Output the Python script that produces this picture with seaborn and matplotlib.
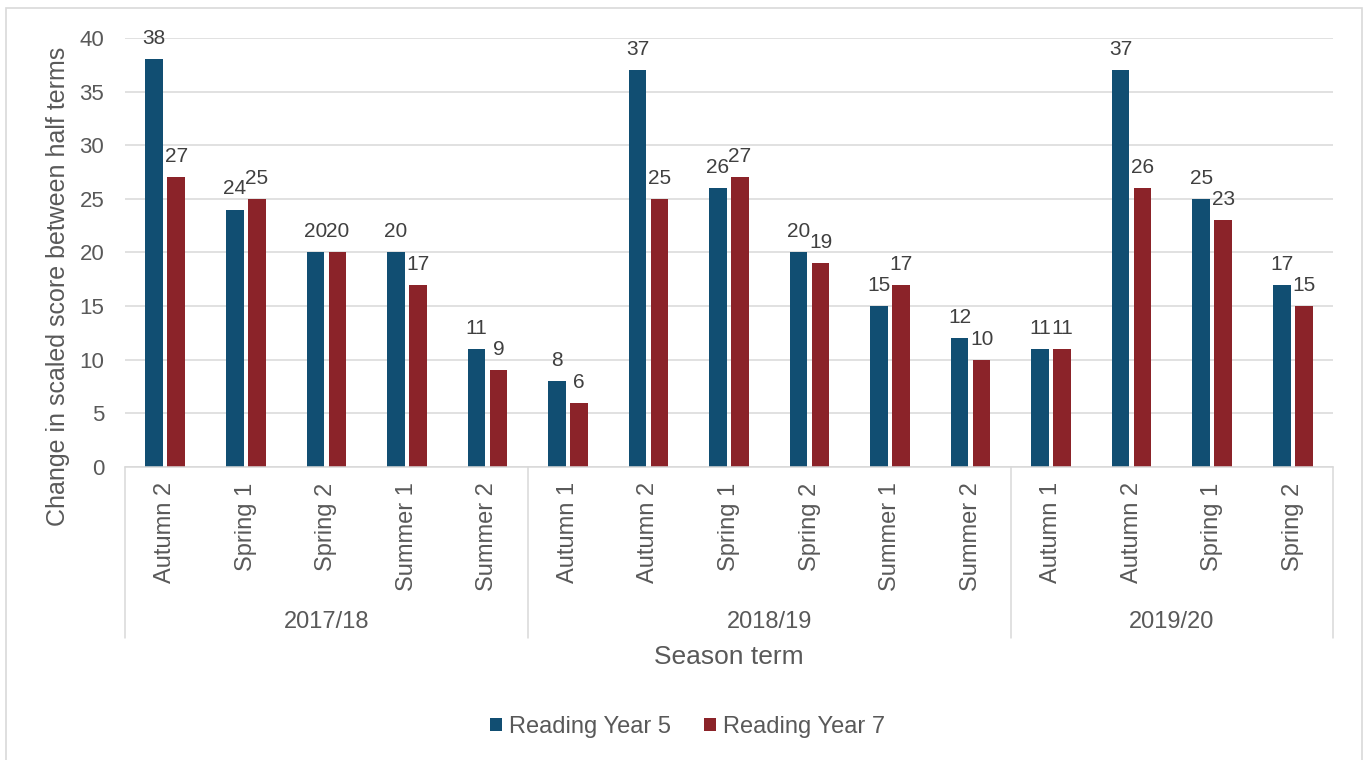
import matplotlib.pyplot as plt
import matplotlib.patches as mpatches
import pandas as pd
import seaborn as sns

# data
years = ["2017/18", "2018/19", "2019/20"]
terms_1718 = ["Autumn 2", "Spring 1", "Spring 2", "Summer 1", "Summer 2"]
terms_1819 = ["Autumn 1", "Autumn 2", "Spring 1", "Spring 2", "Summer 1", "Summer 2"]
terms_1920 = ["Autumn 1", "Autumn 2", "Spring 1", "Spring 2"]
year5 = [38, 24, 20, 20, 11, 8, 37, 26, 20, 15, 12, 11, 37, 25, 17]
year7 = [27, 25, 20, 17, 9, 6, 25, 27, 19, 17, 10, 11, 26, 23, 15]
series = ["Reading Year 5", "Reading Year 7"]
colors = ["#114E72", "#8B2329"]

groups = [terms_1718, terms_1819, terms_1920]
terms, year_of = [], []
for y, g in zip(years, groups):
    terms += g
    year_of += [y] * len(g)
keys = [f"{y} {t}" for y, t in zip(year_of, terms)]

df = pd.DataFrame({
    "key": keys * 2,
    "value": year5 + year7,
    "series": [series[0]] * len(keys) + [series[1]] * len(keys),
})

sns.set_theme(style="white")
plt.rcParams["font.family"] = ["Liberation Sans", "DejaVu Sans"]
grey = "#595959"
line = "#D9D9D9"

fig = plt.figure(figsize=(13.67, 7.6), dpi=100)
ax = fig.add_axes([125 / 1367, 1 - 467 / 760, 1208 / 1367, 429 / 760])

sns.barplot(data=df, x="key", y="value", hue="series", order=keys,
            hue_order=series, palette=colors, width=0.546, gap=0.2,
            linewidth=0, saturation=1, ax=ax)

for cont in ax.containers:
    ax.bar_label(cont, padding=8, fontsize=15, color="#404040")

ax.set_ylim(0, 40)
ax.set_xlim(-0.5, len(keys) - 0.5)
ax.set_yticks(range(0, 41, 5))
ax.yaxis.grid(True, color=line, linewidth=1.1)
ax.set_axisbelow(True)
for s in ["top", "right", "left"]:
    ax.spines[s].set_visible(False)
ax.spines["bottom"].set_color(line)
ax.spines["bottom"].set_linewidth(1.1)

ax.set_xticks(range(len(keys)))
ax.set_xticklabels(terms, rotation=90, va="top", ha="center")
ax.tick_params(axis="x", length=0, pad=11, labelsize=17, labelcolor=grey)
ax.tick_params(axis="y", length=0, pad=15, labelsize=16, labelcolor=grey)

# group dividers and year labels
trans = ax.get_xaxis_transform()
start = 0
bounds = [0]
for y, g in zip(years, groups):
    mid = start + len(g) / 2 - 0.5
    ax.text(mid, -0.361, y, transform=trans, ha="center", va="center",
            fontsize=17, color=grey)
    start += len(g)
    bounds.append(start)
for b in bounds:
    ax.plot([b - 0.5, b - 0.5], [0, -0.399], transform=trans, color=line,
            linewidth=1.1, clip_on=False)

ax.set_xlabel("Season term", fontsize=19, color=grey, va="center")
ax.xaxis.set_label_coords(0.5, -0.443)
ax.set_ylabel("Change in scaled score between half terms", fontsize=18,
              color=grey, va="center", ha="center")
ax.yaxis.set_label_coords(-0.0555, 0.42)

handles, labels = ax.get_legend_handles_labels()
ax.get_legend().remove()
fig.legend(handles, labels, loc="center", bbox_to_anchor=(0.503, 1 - 727 / 760),
           ncol=2, frameon=False, fontsize=17, handlelength=0.5,
           handleheight=0.5, handletextpad=0.3, columnspacing=1.4,
           labelcolor=grey)

# chart area border
fig.patches.append(mpatches.Rectangle((6 / 1367, -0.01), 1356 / 1367, 1 - 8 / 760 + 0.01,
                                      transform=fig.transFigure, fill=False,
                                      edgecolor=line, linewidth=1.2))

fig.savefig("out.png", dpi=100)
